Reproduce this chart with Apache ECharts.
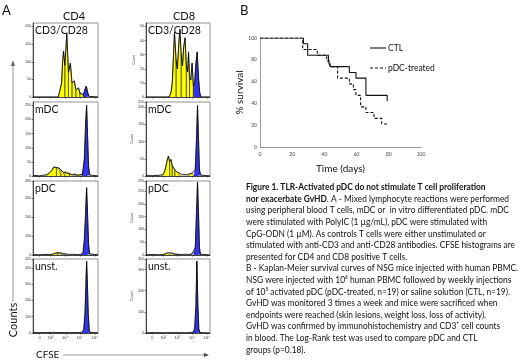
<!DOCTYPE html>
<html>
<head>
<meta charset="utf-8">
<script src="https://cdn.jsdelivr.net/npm/echarts@6/dist/echarts.min.js"></script>
<style>
html, body { margin: 0; padding: 0; background: #fff; }
#chart { width: 520px; height: 361px; }
</style>
</head>
<body>
<div id="chart"></div>
<script>
// CFSE histograms: [display position (% of axis), count]
const cd4Stim = [[0,0],[39,0],[42,5],[44,40],[45.5,100],[47,130],[49,90],[52,180],[54.5,70],[57.5,96],[60,40],[63.5,46],[66,20],[70,26],[72,12],[75,15],[77.5,6],[80,22],[82,31],[84,14],[86,2],[88,0],[100,0]];
const cd4StimGens = [[39,49],[49,54.5],[54.5,60],[60,66],[66,72],[72,77.5]];
const cd4StimUndiv = [77.5, 88];

const cd4Mdc = [[0,1],[5,2],[10,0],[15,3],[20,4],[25,10],[29,20],[32,32],[34,36],[36,30],[38,36],[40,28],[43,22],[46,14],[49,16],[52,10],[56,9],[60,4],[64,7],[68,3],[72,4],[76,6],[79,60],[81,190],[82.5,250],[84,140],[85.5,35],[87,4],[90,0],[100,0]];
const cd4MdcGens = [[20,36],[36,43],[43,49],[49,56],[56,64],[64,76]];
const cd4MdcUndiv = [76, 90];

const cd4Pdc = [[0,2],[10,1],[20,3],[28,3],[33,8],[36,15],[38,12],[41,8],[44,10],[47,6],[51,5],[56,3],[62,4],[68,2],[74,4],[77,15],[79,80],[81,230],[82.5,355],[84,210],[85.5,60],[87,6],[90,1],[100,1]];
const cd4PdcGens = [[28,38],[38,44],[44,51]];
const cd4PdcUndiv = [74, 90];

const cd4Uns = [[0,2],[10,3],[20,2],[30,4],[40,3],[50,3],[60,2],[70,3],[75,4],[78,20],[80,120],[81.5,320],[82.5,440],[83.5,330],[85,120],[86.5,20],[88,3],[91,1],[100,1]];
const cd4UnsGens = [];
const cd4UnsUndiv = [75, 91];

const cd8Stim = [[0,0],[36,0],[39,3],[41,10],[43,30],[44.5,46],[47,26],[49,20],[51,36],[53,48],[55,30],[57,22],[59,36],[61,42],[63,22],[65,18],[66.5,32],[68,14],[70,12],[72,24],[74,8],[76,10],[78,24],[80,32],[82,14],[84,3],[86,0],[100,0]];
const cd8StimGens = [[36,47],[47,55],[55,63],[63,68],[68,74]];
const cd8StimUndiv = [74, 86];

const cd8Mdc = [[0,1],[10,1],[20,2],[26,4],[29,12],[31,28],[33,45],[35,58],[37,42],[39,48],[41,30],[43,32],[45,18],[48,12],[52,8],[56,5],[62,4],[66,5],[68,6],[72,8],[75,5],[77,20],[79,110],[80.5,205],[82,110],[83.5,20],[85,3],[88,0],[100,0]];
const cd8MdcGens = [[26,37],[37,41],[41,45],[45,52],[66,75]];
const cd8MdcUndiv = [75, 88];

const cd8Pdc = [[0,1],[10,2],[20,1],[28,3],[31,7],[34,9],[37,5],[40,8],[43,6],[46,4],[50,3],[56,2],[62,3],[68,2],[72,5],[75,10],[77,30],[79,170],[80.5,285],[82,170],[83.5,30],[85,3],[88,0],[100,0]];
const cd8PdcGens = [[28,37],[37,43],[43,50],[68,75]];
const cd8PdcUndiv = [75, 88];

const cd8Uns = [[0,1],[15,2],[30,1],[45,2],[60,1],[70,2],[74,4],[76,20],[78,130],[79.5,340],[81,140],[82.5,20],[84,2],[87,0],[100,0]];
const cd8UnsGens = [[70,74]];
const cd8UnsUndiv = [74, 87];

// y-axis ranges per panel: [max, interval]
const cd4Ranges = [[210,50],[262,50],[390,100],[455,100]];
const cd8Ranges = [[52.5,10],[215,50],[290,50],[350,100]];

const xTickPos = [10, 27, 49, 72, 95];
const xTickText = ['0', '10²', '10³', '10⁴', '10⁵'];
const rowNames = ['CD3/CD28', 'mDC', 'pDC', 'unst.'];

// Kaplan-Meier
const ctlDays = [0, 27, 29.6, 42.5, 43.5, 55.5, 59.6, 65.8, 79];
const ctlSurv = [100, 94.7, 84.2, 78.9, 73.7, 68.4, 63.2, 47.4, 42.1];
const pdcDays = [0, 26.5, 35.6, 41.4, 43.5, 48.2, 55.5, 58, 59.6, 62.5, 65.8, 70.8, 75.6, 79];
const pdcSurv = [100, 89.5, 84.2, 78.9, 73.7, 63.2, 57.9, 52.6, 47.4, 36.8, 31.6, 26.3, 21.1, 21.1];

const caption = [
  '{b|Figure 1. TLR-Activated pDC do not stimulate T cell proliferation}',
  '{b|nor exacerbate GvHD}. A - Mixed lymphocyte reactions were performed',
  'using peripheral blood T cells, mDC or  in vitro differentiated pDC. mDC',
  'were stimulated with PolyIC (1 µg/mL), pDC were stimulated with',
  'CpG-ODN (1 µM). As controls T cells were either unstimulated or',
  'stimulated with anti-CD3 and anti-CD28 antibodies. CFSE histograms are',
  'presented for CD4 and CD8 positive T cells.',
  'B - Kaplan-Meier survival curves of NSG mice injected with human PBMC.',
  'NSG were injected with 10⁶ human PBMC followed by weekly injections',
  'of 10⁵ activated pDC (pDC-treated, n=19) or saline solution (CTL, n=19).',
  'GvHD was monitored 3 times a week and mice were sacrificed when',
  'endpoints were reached (skin lesions, weight loss, loss of activity).',
  'GvHD was confirmed by immunohistochemistry and CD3⁺ cell counts',
  'in blood. The Log-Rank test was used to compare pDC and CTL',
  'groups (p=0.18).'
];

const FONT = 'Lato, "Open Sans", sans-serif';
const CAP = 10;
const panels = [
  {pts: cd4Stim, gens: cd4StimGens, undiv: cd4StimUndiv, rng: cd4Ranges[0], col: 0, row: 0},
  {pts: cd4Mdc, gens: cd4MdcGens, undiv: cd4MdcUndiv, rng: cd4Ranges[1], col: 0, row: 1},
  {pts: cd4Pdc, gens: cd4PdcGens, undiv: cd4PdcUndiv, rng: cd4Ranges[2], col: 0, row: 2},
  {pts: cd4Uns, gens: cd4UnsGens, undiv: cd4UnsUndiv, rng: cd4Ranges[3], col: 0, row: 3},
  {pts: cd8Stim, gens: cd8StimGens, undiv: cd8StimUndiv, rng: cd8Ranges[0], col: 1, row: 0},
  {pts: cd8Mdc, gens: cd8MdcGens, undiv: cd8MdcUndiv, rng: cd8Ranges[1], col: 1, row: 1},
  {pts: cd8Pdc, gens: cd8PdcGens, undiv: cd8PdcUndiv, rng: cd8Ranges[2], col: 1, row: 2},
  {pts: cd8Uns, gens: cd8UnsGens, undiv: cd8UnsUndiv, rng: cd8Ranges[3], col: 1, row: 3}
];
const colLeft = [33, 146];
const colWidth = [65, 64];
const rowTop = [23, 102, 181, 259];
const panelH = 74;

function segment (pts, r) {
  const sel = pts.filter(p => p[0] >= r[0] && p[0] <= r[1]);
  return [[r[0], 0]].concat(sel, [[r[1], 0]]);
}

const grid = [], xAxis = [], yAxis = [], series = [], graphic = [];

panels.forEach((p, i) => {
  const left = colLeft[p.col], top = rowTop[p.row];
  grid.push({left: left, top: top, width: colWidth[p.col], height: panelH, show: true,
    borderColor: '#777', borderWidth: 0.8, backgroundColor: '#fff'});
  xAxis.push({
    gridIndex: i, type: 'value', min: 0, max: 100,
    axisLine: {lineStyle: {color: '#222', width: 0.8}},
    axisTick: {show: true, customValues: xTickPos, length: 1.5, lineStyle: {color: '#222', width: 0.6}},
    axisLabel: {show: p.row === 3, customValues: xTickPos, fontSize: 4, color: '#333', margin: 3,
      formatter: v => xTickText[xTickPos.indexOf(v)]},
    splitLine: {show: false}
  });
  yAxis.push({
    gridIndex: i, type: 'value', min: 0, max: p.rng[0], interval: p.rng[1],
    axisLine: {show: true, lineStyle: {color: '#222', width: 0.8}},
    axisTick: {show: true, length: 1.5, lineStyle: {color: '#222', width: 0.6}},
    axisLabel: {fontSize: 3.5, color: '#333', margin: 2},
    splitLine: {show: false},
    name: p.col === 1 ? 'Count' : '', nameLocation: 'middle', nameGap: 9,
    nameTextStyle: {fontSize: 3.5, color: '#333'}
  });
  p.gens.forEach(g => {
    series.push({type: 'line', xAxisIndex: i, yAxisIndex: i, data: segment(p.pts, g),
      symbol: 'none', lineStyle: {color: '#222', width: 0.5}, areaStyle: {color: '#ffff00', opacity: 1}});
  });
  series.push({type: 'line', xAxisIndex: i, yAxisIndex: i, data: segment(p.pts, p.undiv),
    symbol: 'none', lineStyle: {color: '#222', width: 0.5}, areaStyle: {color: '#3434f0', opacity: 1}});
  series.push({type: 'line', xAxisIndex: i, yAxisIndex: i, data: p.pts,
    symbol: 'none', lineStyle: {color: '#000', width: 0.8}});
  graphic.push({type: 'text', x: left + 2, y: top + 2, z: 100,
    style: {text: rowNames[p.row], fontSize: 10.5, fontFamily: FONT, fill: '#111'}});
});

// Kaplan-Meier grid
const km = panels.length;
grid.push({left: 260, top: 38, width: 161, height: 109});
xAxis.push({gridIndex: km, type: 'value', min: 0, max: 100, interval: 20,
  axisLine: {lineStyle: {color: '#999', width: 1}}, axisTick: {show: false},
  axisLabel: {fontSize: 5, color: '#444', margin: 5, fontFamily: FONT}, splitLine: {show: false},
  name: 'Time (days)', nameLocation: 'middle', nameGap: 17,
  nameTextStyle: {fontSize: 10, color: '#111', fontFamily: FONT}});
yAxis.push({gridIndex: km, type: 'value', min: 0, max: 100, interval: 20,
  axisLine: {show: true, lineStyle: {color: '#999', width: 1}}, axisTick: {show: false},
  axisLabel: {fontSize: 5, color: '#444', margin: 3, fontFamily: FONT}, splitLine: {show: false},
  name: '% survival', nameLocation: 'middle', nameGap: 12, nameRotate: 90,
  nameTextStyle: {fontSize: 10, color: '#111', fontFamily: FONT}});
series.push({name: 'CTL', type: 'line', xAxisIndex: km, yAxisIndex: km, step: 'end',
  data: ctlDays.map((d, k) => [d, ctlSurv[k]]), symbol: 'none',
  lineStyle: {color: '#111', width: 1.1}});
series.push({name: 'pDC-treated', type: 'line', xAxisIndex: km, yAxisIndex: km, step: 'end',
  data: pdcDays.map((d, k) => [d, pdcSurv[k]]), symbol: 'none',
  lineStyle: {color: '#111', width: 1.1, type: [3, 2]}});

// labels, KM key and arrows
const txt = (x, y, text, size, extra) => ({type: 'text', x: x, y: y,
  style: Object.assign({text: text, fontSize: size, fontFamily: FONT, fill: '#111', verticalAlign: 'middle'}, extra || {})});
graphic.push(
  txt(2, 11, 'A', 13),
  txt(240, 11, 'B', 13),
  txt(74, 16, 'CD4', 11, {align: 'center'}),
  txt(184, 16, 'CD8', 11, {align: 'center'}),
  {type: 'line', shape: {x1: 370, y1: 48, x2: 386, y2: 48}, style: {stroke: '#111', lineWidth: 1.1}},
  {type: 'line', shape: {x1: 370, y1: 68, x2: 386, y2: 68}, style: {stroke: '#111', lineWidth: 1.1, lineDash: [3, 2]}},
  txt(388, 48, 'CTL', 8.5),
  txt(388, 68, 'pDC-treated', 8.5),
  {type: 'line', shape: {x1: 13, y1: 302, x2: 13, y2: 64}, style: {stroke: '#999', lineWidth: 1}},
  {type: 'polygon', shape: {points: [[13, 60], [11, 66], [15, 66]]}, style: {fill: '#666'}},
  Object.assign(txt(13, 320, 'Counts', 11, {align: 'center'}), {rotation: Math.PI / 2}),
  txt(36, 355, 'CFSE', 10),
  {type: 'line', shape: {x1: 63, y1: 355, x2: 205, y2: 355}, style: {stroke: '#999', lineWidth: 1}},
  {type: 'polygon', shape: {points: [[209, 355], [204, 353], [204, 357]]}, style: {fill: '#444'}}
);

// caption, compressed horizontally so the widest line fits the column
const ctx = document.createElement('canvas').getContext('2d');
function lineWidth (line) {
  let w = 0;
  line.split(/(\{b\|[^}]*\})/).forEach(part => {
    if (!part) return;
    const bold = part.indexOf('{b|') === 0;
    ctx.font = (bold ? 'bold ' : '') + CAP + 'px ' + FONT;
    w += ctx.measureText(bold ? part.slice(3, -1) : part).width;
  });
  return w;
}
const maxW = Math.max.apply(null, caption.map(lineWidth));
const sx = 272 / maxW;
caption.forEach((line, k) => {
  graphic.push({type: 'text', x: 246, y: 187 + k * 11.6, scaleX: sx,
    style: {text: line, fontSize: CAP, fontFamily: FONT, fill: '#111', verticalAlign: 'middle',
      rich: {b: {fontWeight: 'bold', fontSize: CAP, fontFamily: FONT, fill: '#111'}}}});
});

const chart = echarts.init(document.getElementById('chart'));
chart.setOption({
  animation: false,
  grid: grid,
  xAxis: xAxis,
  yAxis: yAxis,
  series: series,
  graphic: graphic
});
</script>
</body>
</html>
